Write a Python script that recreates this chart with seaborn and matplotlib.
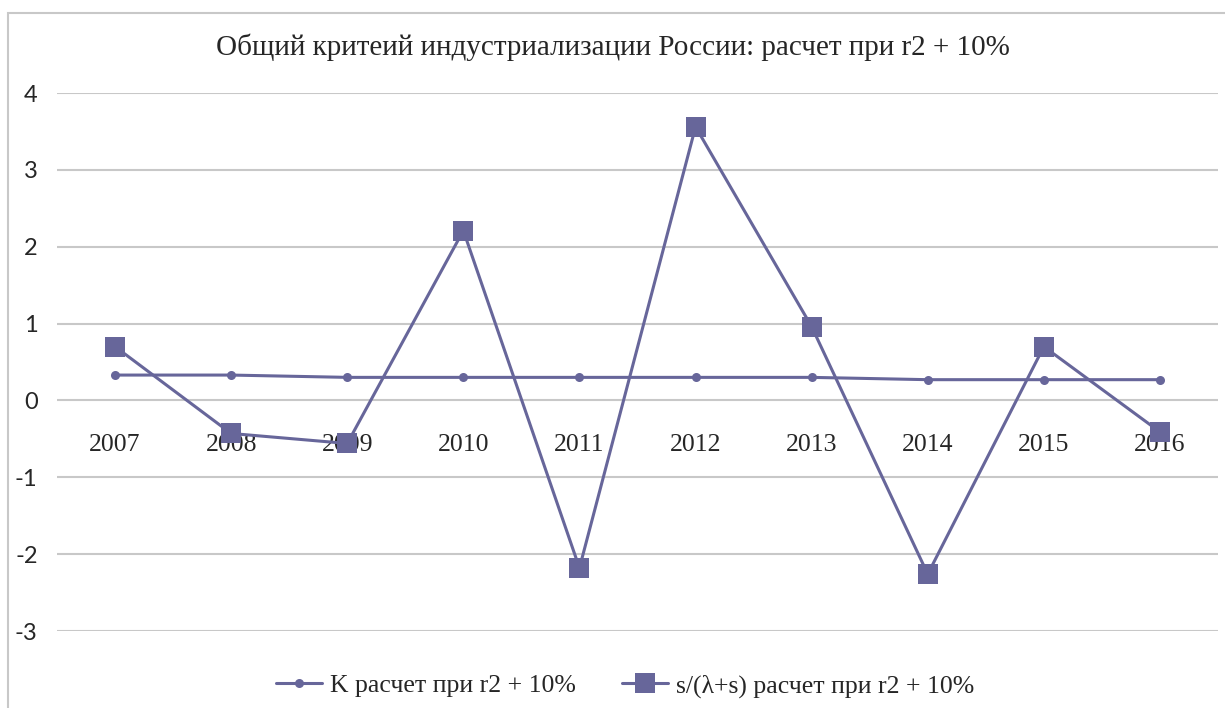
import matplotlib
matplotlib.use("Agg")
import matplotlib.pyplot as plt
from matplotlib.patches import Rectangle
import seaborn as sns
import pandas as pd

# ---------------------- ДАННЫЕ ----------------------
years = ["2007", "2008", "2009", "2010", "2011", "2012", "2013", "2014", "2015", "2016"]
k_values = [0.33, 0.33, 0.30, 0.30, 0.30, 0.30, 0.30, 0.27, 0.27, 0.27]
s_values = [0.70, -0.43, -0.56, 2.21, -2.18, 3.56, 0.96, -2.26, 0.70, -0.41]
y_ticks = [-3, -2, -1, 0, 1, 2, 3, 4]

title = "Общий критеий индустриализации России: расчет при r2 + 10%"
label_k = "K расчет при r2 + 10%"
label_s = "s/(λ+s) расчет при r2 + 10%"
# ----------------------------------------------------

COLOR = "#67669a"
GRID = "#c8c8c8"

sns.set_style("white")
plt.rcParams["font.family"] = ["Liberation Serif", "DejaVu Serif"]

df = pd.DataFrame({"pos": range(len(years)), "k": k_values, "s": s_values})

fig = plt.figure(figsize=(12.25, 7.08), dpi=100)
ax = fig.add_axes([57 / 1225, 1 - 631 / 708, (1218 - 57) / 1225, (631 - 93) / 708])

sns.lineplot(data=df, x="pos", y="k", ax=ax, color=COLOR, linewidth=2.2,
             marker="o", markersize=6.5, markeredgewidth=0, label=label_k, zorder=3)
sns.lineplot(data=df, x="pos", y="s", ax=ax, color=COLOR, linewidth=2.2,
             marker="s", markersize=15, markeredgewidth=0, label=label_s, zorder=4)

# ось X проходит через ноль (как в Excel)
ax.spines["bottom"].set_position(("data", 0))
for sp in ax.spines.values():
    sp.set_visible(False)

ax.set_xlim(-0.5, len(years) - 0.5)
ax.set_ylim(-3, 4)
ax.set_yticks(y_ticks)
ax.set_yticklabels([str(t) for t in y_ticks], family=["Lato", "DejaVu Sans"], fontsize=17)
ax.set_xticks(range(len(years)))
ax.set_xticklabels(years, fontsize=18.5)
ax.tick_params(axis="y", length=0, pad=14)
ax.tick_params(axis="x", length=0, pad=24)
ax.grid(axis="y", color=GRID, linewidth=1.5)
ax.grid(axis="x", visible=False)
ax.set_xlabel("")
ax.set_ylabel("")

fig.text(0.5, 1 - 47 / 708, title, ha="center", va="center", fontsize=21)

ax.legend_.remove()
handles, labels = ax.get_legend_handles_labels()
fig.legend(handles, labels, loc="center", bbox_to_anchor=(0.51, 1 - 686 / 708), ncol=2,
           frameon=False, fontsize=18.5, handlelength=1.8, columnspacing=1.8, handletextpad=0.3)

# рамка области диаграммы
fig.patches.append(Rectangle((8 / 1225, -0.05), 1.1, 1 - 13 / 708 + 0.05, transform=fig.transFigure,
                             fill=False, edgecolor="#c8c8c8", linewidth=1.5))

fig.savefig("out.png", dpi=100)
